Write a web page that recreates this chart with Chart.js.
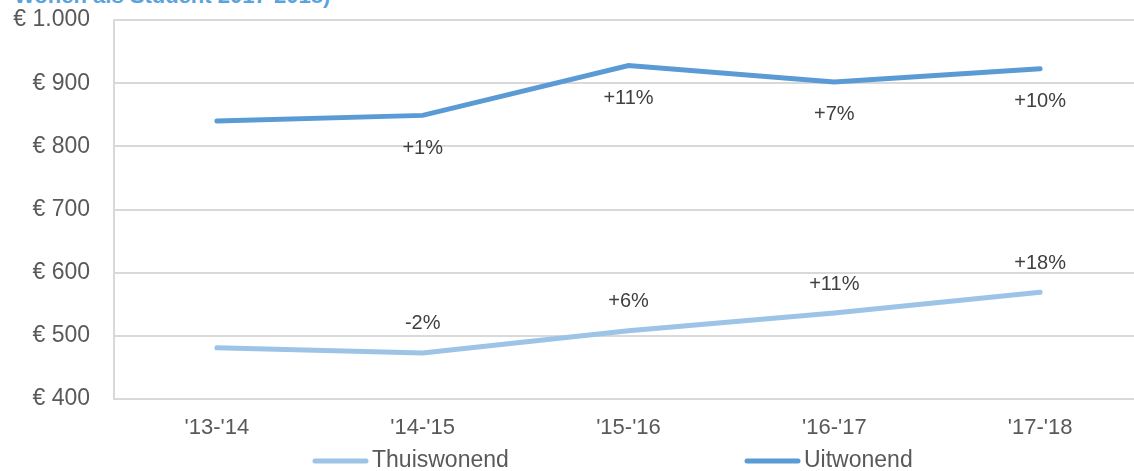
<!DOCTYPE html>
<html>
<head>
    <title>Wonen als Student</title>
    <script src="https://cdn.jsdelivr.net/npm/chart.js"></script>
    <style>
        body { margin: 0; width: 1134px; height: 471px; overflow: hidden; position: relative; background: #fff; }
        #title { position: absolute; left: 14px; top: -15px; font: bold 22px 'Liberation Sans', Arial, sans-serif; color: #5ba3dc; line-height: 22px; white-space: nowrap; }
        #wrap { position: absolute; left: 0; top: 0; width: 1154px; height: 471px; }
    </style>
</head>
<body>
    <div id="title">Wonen als Student 2017-2018)</div>
    <div id="wrap"><canvas id="cost-chart"></canvas></div>

    <script>
        const years = ["'13-'14", "'14-'15", "'15-'16", "'16-'17", "'17-'18"];
        const thuiswonend = [481, 473, 508, 536, 569];
        const uitwonend = [840, 849, 928, 902, 923];
        const thuisLabels = ['', '-2%', '+6%', '+11%', '+18%'];
        const uitLabels = ['', '+1%', '+11%', '+7%', '+10%'];

        const font = "'Liberation Sans', Arial, sans-serif";

        // percentage labels next to the points
        const pointLabels = {
            id: 'pointLabels',
            afterDatasetsDraw(chart) {
                const ctx = chart.ctx;
                ctx.save();
                ctx.font = '20px ' + font;
                ctx.fillStyle = '#404040';
                ctx.textAlign = 'center';
                ctx.textBaseline = 'middle';
                chart.data.datasets.forEach((ds, i) => {
                    const meta = chart.getDatasetMeta(i);
                    meta.data.forEach((pt, j) => {
                        const txt = ds.pctLabels[j];
                        if (txt) ctx.fillText(txt, pt.x, pt.y + ds.labelOffset);
                    });
                });
                ctx.restore();
            }
        };

        // legend drawn at the same spots as in the original
        const legendSpots = [313, 745];
        const customLegend = {
            id: 'customLegend',
            afterDraw(chart) {
                const ctx = chart.ctx;
                ctx.save();
                ctx.font = '23px ' + font;
                ctx.textBaseline = 'middle';
                chart.data.datasets.forEach((ds, i) => {
                    const x = legendSpots[i];
                    const y = 461;
                    ctx.strokeStyle = ds.borderColor;
                    ctx.lineWidth = 5;
                    ctx.lineCap = 'round';
                    ctx.beginPath();
                    ctx.moveTo(x + 2, y);
                    ctx.lineTo(x + 53, y);
                    ctx.stroke();
                    ctx.fillStyle = '#595959';
                    ctx.fillText(ds.label, x + 59, y);
                });
                ctx.restore();
            }
        };

        const ctx = document.getElementById('cost-chart').getContext('2d');
        new Chart(ctx, {
            type: 'line',
            data: {
                labels: years,
                datasets: [{
                    label: 'Thuiswonend',
                    data: thuiswonend,
                    borderColor: '#9dc3e6',
                    borderWidth: 5,
                    pointRadius: 0,
                    borderCapStyle: 'round',
                    pctLabels: thuisLabels,
                    labelOffset: -29
                }, {
                    label: 'Uitwonend',
                    data: uitwonend,
                    borderColor: '#5b9bd5',
                    borderWidth: 5,
                    pointRadius: 0,
                    borderCapStyle: 'round',
                    pctLabels: uitLabels,
                    labelOffset: 33
                }]
            },
            options: {
                responsive: true,
                maintainAspectRatio: false,
                animation: false,
                layout: { padding: { top: 20, right: 11, left: 0, bottom: 0 } },
                plugins: {
                    legend: { display: false },
                    tooltip: { enabled: false }
                },
                scales: {
                    x: {
                        offset: true,
                        grid: { display: false, drawTicks: false },
                        border: { display: true, color: '#d9d9d9', width: 2 },
                        ticks: { color: '#595959', font: { family: font, size: 22 }, padding: 16 },
                        afterFit(scale) { scale.height = 72; }
                    },
                    y: {
                        min: 400,
                        max: 1000,
                        grid: { color: '#d9d9d9', lineWidth: 2, drawTicks: true, tickLength: 24, tickColor: 'rgba(0,0,0,0)' },
                        border: { display: true, color: '#d9d9d9', width: 2 },
                        ticks: {
                            stepSize: 100,
                            color: '#595959',
                            font: { family: font, size: 23 },
                            padding: 0,
                            callback: v => '€ ' + v.toLocaleString('nl-NL')
                        },
                        afterFit(scale) { scale.width = 114; }
                    }
                }
            },
            plugins: [pointLabels, customLegend]
        });
    </script>
</body>
</html>
